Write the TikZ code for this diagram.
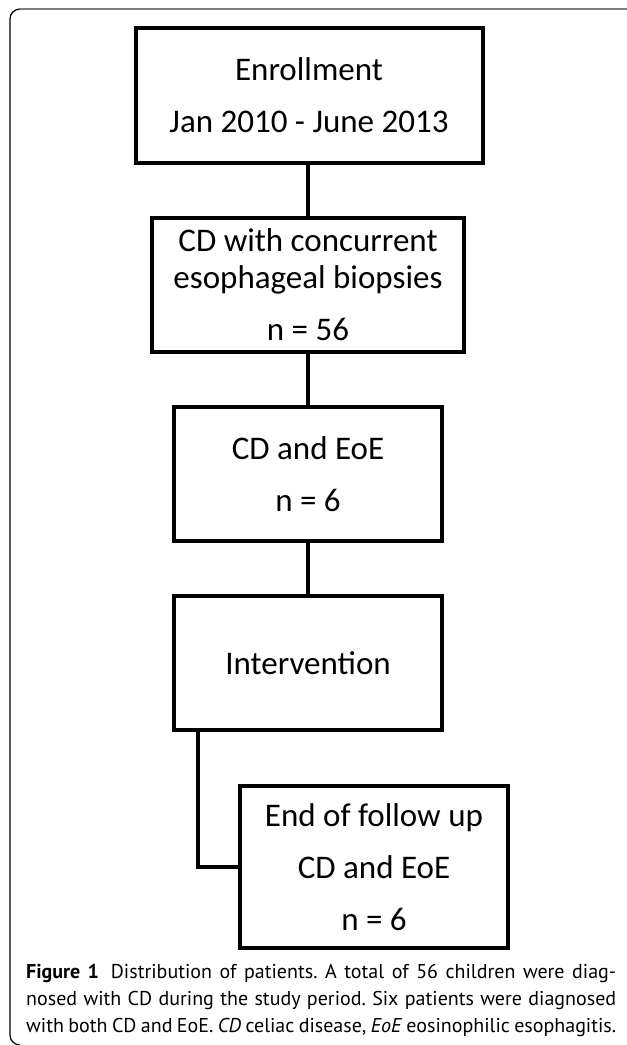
\documentclass[tikz,border=0pt]{standalone}
\usepackage{fontspec}
\setmainfont{Carlito}
\newfontfamily\capfont{PT Sans}
\definecolor{framegray}{HTML}{7F7F7F}
\newcommand\capline[1]{\hbox to 590pt{#1}}
\frenchspacing
\begin{document}
\begin{tikzpicture}[x=1pt,y=-1pt,
        box/.style={draw,line width=4pt,align=center,inner sep=0pt,
            minimum width=268pt,minimum height=134pt,
            font=\fontsize{33}{52}\selectfont},
        link/.style={draw,line width=4pt}]
    \useasboundingbox (0,0) rectangle (627,1045);
    \draw[framegray,line width=1.5pt] (627,9) -- (20,9);
    \draw[line width=1.2pt] (20,9) arc[start angle=270,end angle=180,radius=10]
        -- (10,1035) arc[start angle=180,end angle=90,radius=10];
    \node[box,minimum width=347pt,minimum height=135pt] (enroll) at (309,95.5)
        {Enrollment\\Jan 2010 - June 2013};
    \node[box,minimum width=312pt] (biopsy) at (308,285)
        {CD with concurrent\\[-15pt]esophageal biopsies\\n = 56};
    \node[box] (cdeoe) at (308,474) {CD and EoE\\n = 6};
    \node[box] (interv) at (308,663) {Intervention};
    \node[box,minimum height=162pt] (endfu) at (374,867)
        {End of follow up\\CD and EoE\\n = 6};
    \coordinate (drop) at ([xshift=26pt]interv.south west);
    \path[link] (biopsy.north) -- (biopsy.north |- enroll.south);
    \path[link] (biopsy) -- (cdeoe);
    \path[link] (cdeoe) -- (interv);
    \path[link] (drop) |- (endfu.west);
    \node[anchor=north west,align=left,inner sep=0pt,
        font=\capfont\fontsize{20}{27}\selectfont] (caption) at (26,964)
        {\capline{\textbf{Figure 1}\hspace{0.6em}Distribution of patients. A total of 56 children were diag-}\\
        \capline{nosed with CD during the study period. Six patients were diagnosed}\\
        \capline{with both CD and EoE. \textit{CD} celiac disease, \textit{EoE} eosinophilic esophagitis.}};
\end{tikzpicture}
\end{document}
